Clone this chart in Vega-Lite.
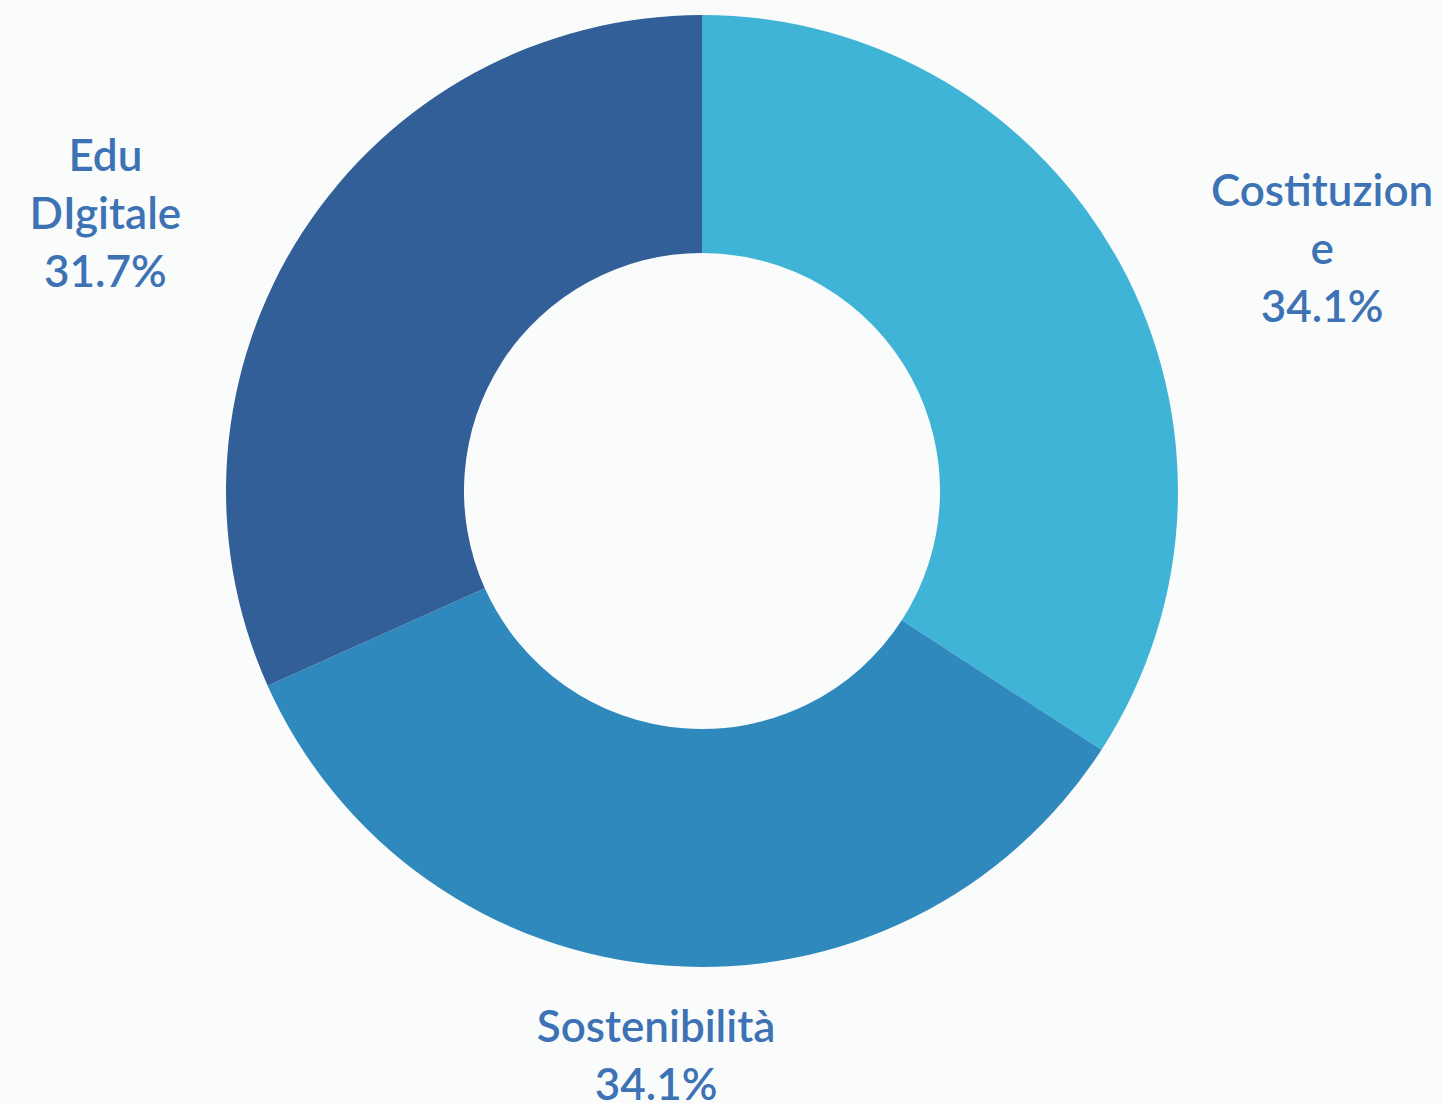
{
  "$schema": "https://vega.github.io/schema/vega-lite/v6.json",
  "width": 1404,
  "height": 982,
  "autosize": "none",
  "padding": {"left": 0, "top": 0, "right": 38, "bottom": 121},
  "background": "#fafcfc",
  "config": {"view": {"stroke": null}},
  "data": {
    "values": [
      {"categoria": "Costituzione", "valore": 14, "ordine": 1, "etichetta": ["Costituzion", "e", "34.1%"]},
      {"categoria": "Sostenibilità", "valore": 14, "ordine": 2, "etichetta": ["Sostenibilità", "34.1%"]},
      {"categoria": "Edu DIgitale", "valore": 13, "ordine": 3, "etichetta": ["Edu", "DIgitale", "31.7%"]}
    ]
  },
  "encoding": {
    "theta": {"field": "valore", "type": "quantitative", "stack": true},
    "order": {"field": "ordine", "type": "quantitative"}
  },
  "layer": [
    {
      "mark": {"type": "arc", "innerRadius": 238, "outerRadius": 476},
      "encoding": {
        "color": {
          "field": "categoria",
          "type": "nominal",
          "scale": {"domain": ["Costituzione", "Sostenibilità", "Edu DIgitale"], "range": ["#3fb4d6", "#2f89bc", "#325f98"]},
          "legend": null
        }
      }
    },
    {
      "mark": {"type": "text", "font": "Lato", "fontSize": 44, "fontWeight": 600, "lineHeight": 58, "color": "#3d72b4", "align": "center", "baseline": "middle", "dx": 93, "dy": -11},
      "encoding": {
        "radius": {"value": 600},
        "text": {"condition": {"test": "datum.categoria === 'Costituzione'", "field": "etichetta"}, "value": ""}
      }
    },
    {
      "mark": {"type": "text", "font": "Lato", "fontSize": 44, "fontWeight": 600, "lineHeight": 58, "color": "#3d72b4", "align": "center", "baseline": "middle", "dx": 0, "dy": -60},
      "encoding": {
        "radius": {"value": 600},
        "text": {"condition": {"test": "datum.categoria === 'Sostenibilità'", "field": "etichetta"}, "value": ""}
      }
    },
    {
      "mark": {"type": "text", "font": "Lato", "fontSize": 44, "fontWeight": 600, "lineHeight": 58, "color": "#3d72b4", "align": "center", "baseline": "middle", "dx": -93, "dy": -7},
      "encoding": {
        "radius": {"value": 600},
        "text": {"condition": {"test": "datum.categoria === 'Edu DIgitale'", "field": "etichetta"}, "value": ""}
      }
    }
  ]
}
